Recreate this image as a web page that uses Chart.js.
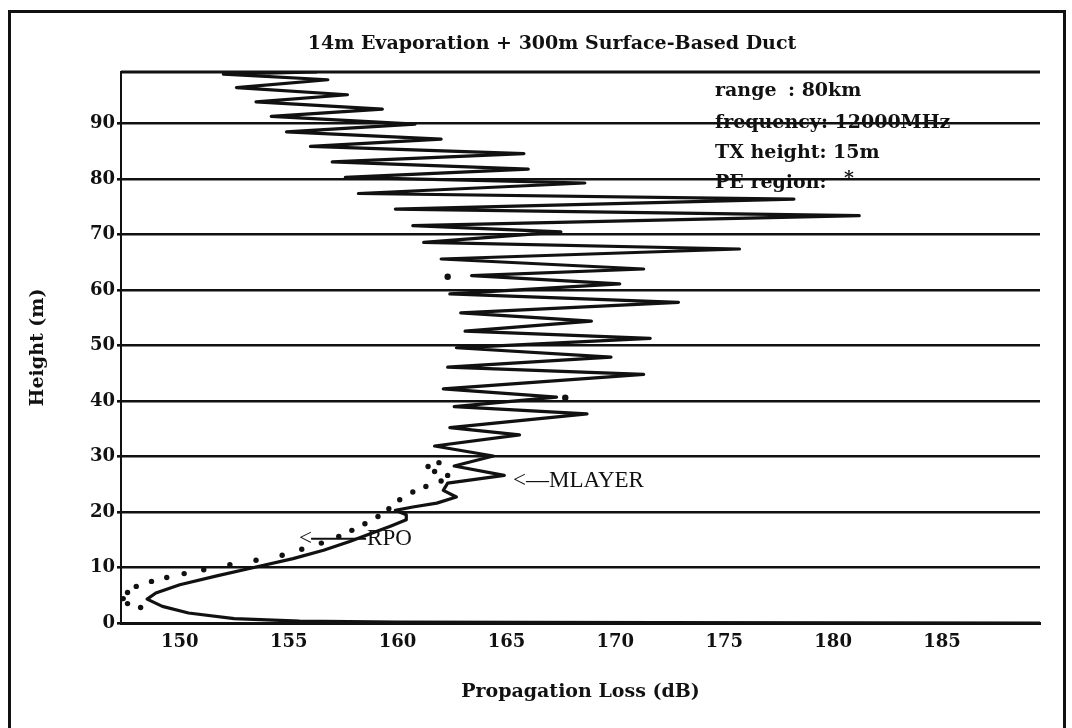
<!DOCTYPE html>
<html>
<head>
<meta charset="utf-8">
<script src="https://cdn.jsdelivr.net/npm/chart.js@4.4.1/dist/chart.umd.min.js"></script>
<style>
    html, body { margin: 0; padding: 0; background: #fff; }
    #wrap { position: relative; width: 1072px; height: 728px; overflow: hidden; }
    #chart { position: absolute; left: 0; top: 0; }
    #frame {
        position: absolute; left: 8px; top: 10px; width: 1058px; height: 760px;
        border: 3px solid #111; box-sizing: border-box; pointer-events: none;
    }
</style>
</head>
<body>
<div id="wrap">
    <canvas id="chart" width="1072" height="728"></canvas>
    <div id="frame"></div>
</div>
<script>
// ===== DATA =====
const chartTitle = "14m Evaporation + 300m Surface-Based Duct";
const xTitle = "Propagation Loss (dB)";
const yTitle = "Height (m)";

const xTicks = [150, 155, 160, 165, 170, 175, 180, 185];
const yTicks = [0, 10, 20, 30, 40, 50, 60, 70, 80, 90];

// solid curve: loss (dB) against height (m), read from bottom to top
const solidLoss = [
    189.5, 172.0, 160.0, 155.5, 152.5, 150.4, 149.2, 148.5, 148.9, 150.0,
    151.7, 153.5, 155.2, 156.6, 157.8, 158.9, 159.7, 160.4, 160.4, 159.9,
    160.7, 161.8, 162.7, 162.1, 162.3, 164.9, 162.6, 164.4, 161.7, 165.6,
    162.4, 168.7, 162.6, 167.3, 162.1, 171.3, 162.3, 169.8, 162.7, 171.6,
    163.1, 168.9, 162.9, 172.9, 162.4, 170.2, 163.4, 171.3, 162.0, 175.7,
    161.2, 167.5, 160.7, 181.2, 159.9, 178.2, 158.2, 168.6, 157.6, 166.0,
    157.0, 165.8, 156.0, 162.0, 154.9, 160.8, 154.2, 159.3, 153.5, 157.7,
    152.6, 156.8, 152.0, 156.3
];
const solidHeight = [
    0.0, 0.05, 0.15, 0.35, 0.8, 1.8, 3.0, 4.3, 5.4, 6.9,
    8.5, 10.1, 11.6, 13.1, 14.7, 16.3, 17.5, 18.6, 19.5, 20.3,
    20.9, 21.6, 22.7, 23.9, 25.2, 26.6, 28.3, 30.1, 31.9, 33.9,
    35.2, 37.7, 39.0, 40.7, 42.2, 44.8, 46.1, 47.9, 49.6, 51.3,
    52.6, 54.4, 55.9, 57.8, 59.3, 61.1, 62.6, 63.8, 65.6, 67.4,
    68.6, 70.5, 71.6, 73.4, 74.6, 76.4, 77.4, 79.3, 80.3, 81.8,
    83.1, 84.6, 85.9, 87.2, 88.5, 89.9, 91.3, 92.6, 93.9, 95.2,
    96.5, 97.9, 98.9, 99.3
];

// dotted curve (RPO)
const rpoLoss = [
    148.2, 147.6, 147.4, 147.6, 148.0, 148.7, 149.4, 150.2, 151.1, 152.3,
    153.5, 154.7, 155.6, 156.5, 157.3, 157.9, 158.5, 159.1, 159.6, 160.1,
    160.7, 161.3, 162.0, 162.3, 161.7, 161.4, 161.9
];
const rpoHeight = [
    2.8, 3.5, 4.4, 5.5, 6.6, 7.5, 8.2, 8.9, 9.6, 10.5,
    11.3, 12.2, 13.3, 14.4, 15.6, 16.7, 17.9, 19.2, 20.6, 22.2,
    23.6, 24.6, 25.6, 26.6, 27.3, 28.2, 28.9
];

// stray PE markers
const peLoss = [167.7, 162.3];
const peHeight = [40.6, 62.4];

// annotations, anchored on data values
const noteText = ["<\u2014MLAYER", "RPO"];
const noteLoss = [165.3, 158.6];
const noteHeight = [25.6, 15.2];

const infoLines = ["frequency: 12000MHz", "TX height: 15m", "PE region:"];

// ===== HELPERS =====
function toPoints(xs, ys) {
    return xs.map((v, i) => ({ x: v, y: ys[i] }));
}

const ink = "#111";
const serif = "'DejaVu Serif', 'Liberation Serif', serif";

// ===== EXTRA DRAWING =====
const notesPlugin = {
    id: "notes",
    afterDraw(chart) {
        const ctx = chart.ctx;
        const area = chart.chartArea;
        const xs = chart.scales.x;
        const ys = chart.scales.y;
        ctx.save();

        // top edge of the plot
        ctx.strokeStyle = ink;
        ctx.lineWidth = 3;
        ctx.beginPath();
        ctx.moveTo(area.left, area.top);
        ctx.lineTo(area.right, area.top);
        ctx.stroke();

        ctx.fillStyle = ink;
        ctx.textBaseline = "middle";

        // title
        ctx.textAlign = "center";
        ctx.font = "bold 19px " + serif;
        ctx.fillText(chartTitle, 552, 44);

        // info block
        ctx.textAlign = "left";
        ctx.fillText("range", 715, 91);
        ctx.fillText(": 80km", 788, 91);
        infoLines.forEach((line, i) => {
            ctx.fillText(line, 715, 123 + i * 30);
        });
        ctx.fillText("*", 844, 179);

        // curve labels
        ctx.font = "23px 'Liberation Serif', serif";
        const mx = xs.getPixelForValue(noteLoss[0]);
        const my = ys.getPixelForValue(noteHeight[0]);
        ctx.fillText(noteText[0], mx, my);

        const rx = xs.getPixelForValue(noteLoss[1]);
        const ry = ys.getPixelForValue(noteHeight[1]);
        ctx.fillText(noteText[1], rx, ry);
        ctx.lineWidth = 2;
        ctx.beginPath();
        ctx.moveTo(rx - 1, ry);
        ctx.lineTo(rx - 56, ry);
        ctx.stroke();
        ctx.fillText("<", rx - 68, ry);

        ctx.restore();
    },
};

// ===== CHART =====
new Chart(document.getElementById("chart"), {
    type: "scatter",
    data: {
        datasets: [
            {
                label: "PE",
                data: toPoints(solidLoss, solidHeight),
                showLine: true,
                borderColor: ink,
                borderWidth: 3.2,
                borderJoinStyle: "round",
                pointRadius: 0,
                tension: 0,
            },
            {
                label: "RPO",
                data: toPoints(rpoLoss, rpoHeight),
                showLine: false,
                pointRadius: 2.7,
                pointBackgroundColor: ink,
                pointBorderWidth: 0,
            },
            {
                label: "PE region",
                data: toPoints(peLoss, peHeight),
                showLine: false,
                pointRadius: 3.2,
                pointBackgroundColor: ink,
                pointBorderWidth: 0,
            },
        ],
    },
    options: {
        responsive: false,
        animation: false,
        devicePixelRatio: 1,
        layout: { padding: { top: 72, right: 32, bottom: 0, left: 0 } },
        plugins: {
            legend: { display: false },
            tooltip: { enabled: false },
            title: { display: false },
        },
        scales: {
            x: {
                type: "linear",
                min: 147.3,
                max: 189.5,
                afterBuildTicks: (s) => { s.ticks = xTicks.map((v) => ({ value: v })); },
                afterFit: (s) => { s.height = 105; },
                grid: { display: false, drawTicks: false },
                border: { display: true, color: ink, width: 3 },
                ticks: { color: ink, font: { family: serif, size: 18, weight: "bold" }, padding: 9, maxRotation: 0 },
                title: {
                    display: true, text: xTitle, color: ink,
                    font: { family: serif, size: 19, weight: "bold" },
                    padding: { top: 0, bottom: 25 },
                },
            },
            y: {
                type: "linear",
                min: 0,
                max: 99.3,
                afterBuildTicks: (s) => { s.ticks = yTicks.map((v) => ({ value: v })); },
                afterFit: (s) => { s.width = 121; },
                grid: { color: ink, lineWidth: 2.6, drawTicks: true, tickLength: 4 },
                border: { display: true, color: ink, width: 2 },
                ticks: { color: ink, font: { family: serif, size: 18, weight: "bold" }, padding: 2 },
                title: {
                    display: true, text: yTitle, color: ink,
                    font: { family: serif, size: 19, weight: "bold" },
                    padding: { top: 27, bottom: 0 },
                },
            },
        },
    },
    plugins: [notesPlugin],
});
</script>
</body>
</html>
